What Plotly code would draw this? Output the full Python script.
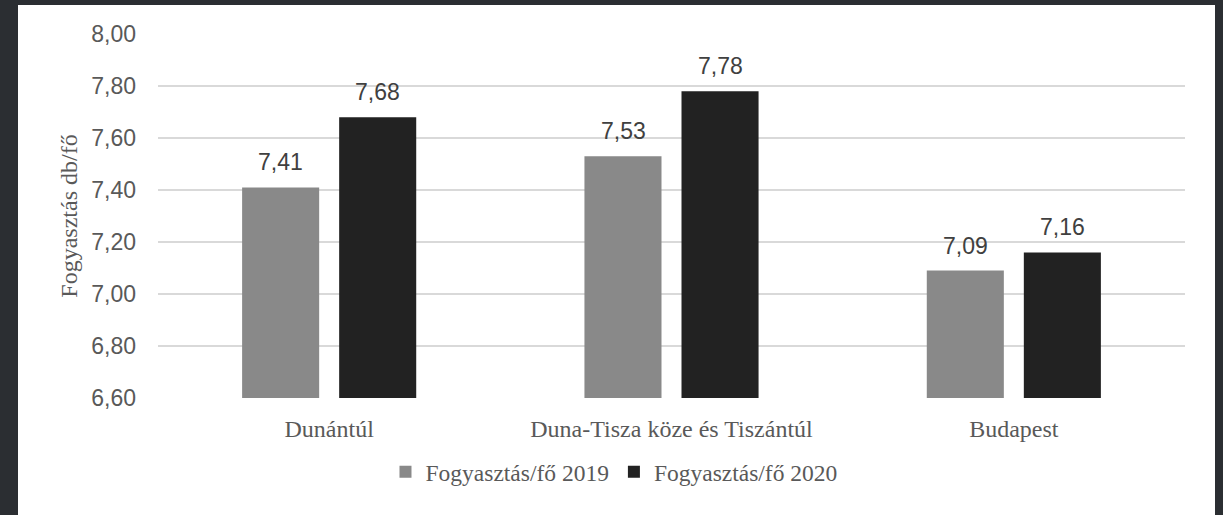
import plotly.graph_objects as go

categories = ["Dunántúl", "Duna-Tisza köze és Tiszántúl", "Budapest"]
series_names = ["Fogyasztás/fő 2019", "Fogyasztás/fő 2020"]
values_2019 = [7.41, 7.53, 7.09]
values_2020 = [7.68, 7.78, 7.16]
y_ticks = [6.6, 6.8, 7.0, 7.2, 7.4, 7.6, 7.8, 8.0]
y_title = "Fogyasztás db/fő"

colors = ["#898989", "#222222"]
sans = "Liberation Sans, Arial, sans-serif"
serif = "Liberation Serif, Times New Roman, serif"

fig = go.Figure()
for name, vals, col in zip(series_names, [values_2019, values_2020], colors):
    fig.add_trace(go.Bar(x=categories, y=vals, name=name, marker=dict(color=col, line=dict(width=0))))

# data labels
offsets = [-48.5, 48.5]
for vals, dx in zip([values_2019, values_2020], offsets):
    for c, v in zip(categories, vals):
        fig.add_annotation(x=c, y=v, text=f"{v:.2f}".replace(".", ","), showarrow=False,
                           xshift=dx, yanchor="bottom", yshift=10,
                           font=dict(family=sans, size=23, color="#404040"))

L, R, T, B = 158, 38, 34, 117
W, H = 1223, 515
pw, ph = W - L - R, H - T - B
fig.add_shape(type="rect", xref="paper", yref="paper", layer="below",
              x0=(18 - L) / pw, x1=(1215 - L) / pw,
              y0=(T + ph - 520) / ph, y1=(T + ph - 5) / ph,
              fillcolor="white", line=dict(width=0))

fig.update_layout(
    width=W, height=H,
    margin=dict(l=L, r=R, t=T, b=B),
    paper_bgcolor="#2b2e32",
    plot_bgcolor="white",
    separators=", ",
    barmode="group",
    bargap=0.433,
    bargroupgap=0.206,
    showlegend=True,
    legend=dict(orientation="h", x=0.444, xanchor="center", y=-0.203, yanchor="middle",
                font=dict(family=serif, size=23.5, color="#595959"),
                bgcolor="rgba(0,0,0,0)", itemwidth=30, traceorder="normal"),
    xaxis=dict(showgrid=False, showline=False, ticks="", tickfont=dict(family=serif, size=24, color="#595959"),
               ticklabelstandoff=14),
    yaxis=dict(range=[6.6, 8.0], tickvals=y_ticks, tickformat=".2f", showgrid=True,
               gridcolor="#d9d9d9", gridwidth=1.5, zeroline=False, showline=False,
               tickfont=dict(family=sans, size=23, color="#595959"), ticklabelstandoff=21,
               title=dict(text=y_title, font=dict(family=serif, size=24, color="#595959"), standoff=6)),
)

fig.write_html("out.html", config={"displayModeBar": False},
               post_script="document.body.style.margin='0';document.body.style.background='#2b2e32';")
